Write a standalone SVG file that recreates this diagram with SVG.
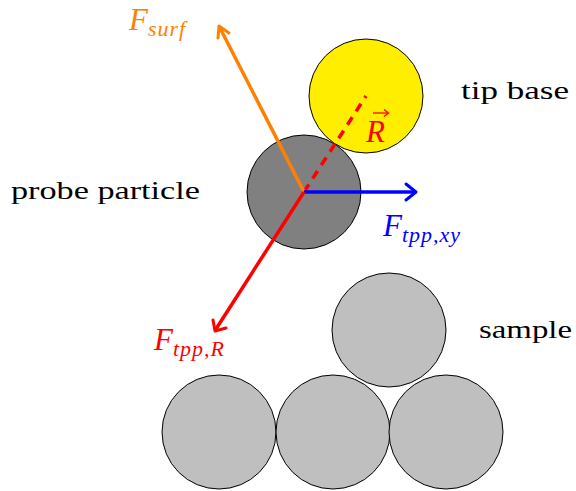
<svg xmlns="http://www.w3.org/2000/svg" width="576" height="491" viewBox="0 0 576 491">
<style>
.t{font-family:"Liberation Serif","DejaVu Serif",serif;font-size:26px;fill:#000}
.m{font-family:"Liberation Serif","DejaVu Serif",serif;font-style:italic;font-size:31px}
.s{font-size:22px;letter-spacing:1px}
.node{stroke:#000;stroke-width:1}
.arr{fill:none;stroke-width:3.5;stroke-linecap:butt}
.head{fill:none;stroke-width:3;stroke-linecap:round;stroke-linejoin:round}
</style>
<rect width="576" height="491" fill="#fff"/>
<g id="sample">
<circle class="node" cx="389" cy="330" r="57" fill="#bfbfbf"/>
<circle class="node" cx="219" cy="432" r="57" fill="#bfbfbf"/>
<circle class="node" cx="333" cy="432" r="57" fill="#bfbfbf"/>
<circle class="node" cx="446" cy="432" r="57" fill="#bfbfbf"/>
<text class="t" x="479" y="338" textLength="93" lengthAdjust="spacingAndGlyphs">sample</text>
</g>
<g id="tip-base">
<circle class="node" cx="366" cy="96" r="57" fill="#ffee00"/>
<text class="t" x="461" y="99" textLength="108" lengthAdjust="spacingAndGlyphs">tip base</text>
</g>
<g id="probe-particle">
<circle class="node" cx="304" cy="192" r="57" fill="#808080"/>
<text class="t" x="11" y="199" textLength="189" lengthAdjust="spacingAndGlyphs">probe particle</text>
</g>
<g id="connectors">
<line x1="304" y1="192" x2="366" y2="96" stroke="#ff0000" stroke-width="3.5" stroke-dasharray="9,7"/>
<line class="arr" x1="304" y1="192" x2="220" y2="28" stroke="#ff8000"/>
<polyline class="head" points="218,38 219,26 229,33" stroke="#ff8000"/>
<line class="arr" x1="304" y1="192" x2="414" y2="192" stroke="#0000ff"/>
<polyline class="head" points="406,184 416,192 406,200" stroke="#0000ff"/>
<line class="arr" x1="304" y1="192" x2="216" y2="329" stroke="#ff0000"/>
<polyline class="head" points="213,320 215,331 226,328" stroke="#ff0000"/>
</g>
<g id="labels">
<text class="m" x="129" y="30" fill="#ff8000">F<tspan class="s" dy="6">surf</tspan></text>
<text class="m" x="383" y="236" fill="#0000ff">F<tspan class="s" dy="6">tpp,xy</tspan></text>
<text class="m" x="154" y="350" fill="#ff0000">F<tspan class="s" dy="6">tpp,R</tspan></text>
<text class="m" x="366" y="142" fill="#ff0000">R</text>
<line x1="373" y1="113" x2="388" y2="113" stroke="#ff0000" stroke-width="1.3"/>
<polyline points="384,109.5 388.5,113 384,116.5" fill="none" stroke="#ff0000" stroke-width="1.3"/>
</g>
</svg>
